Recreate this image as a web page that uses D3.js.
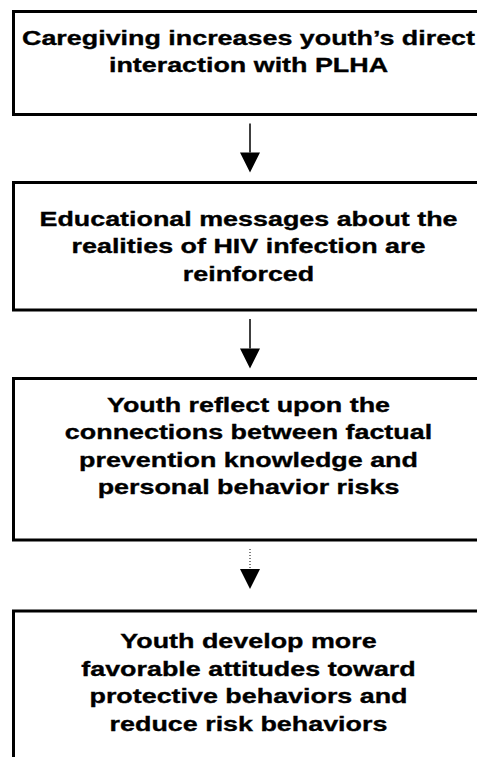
<!DOCTYPE html>
<html>
<head>
<meta charset="utf-8">
<script src="https://cdn.jsdelivr.net/npm/d3@7"></script>
<style>
  body { margin: 0; background: #fff; }
  svg { display: block; }
</style>
</head>
<body>
<div id="chart"></div>
<script>
// flowchart steps, one array of wrapped lines per box
const step1 = ["Caregiving increases youth\u2019s direct", "interaction with PLHA"];
const step2 = ["Educational messages about the", "realities of HIV infection are", "reinforced"];
const step3 = ["Youth reflect upon the", "connections between factual", "prevention knowledge and", "personal behavior risks"];
const step4 = ["Youth develop more", "favorable attitudes toward", "protective behaviors and", "reduce risk behaviors"];
const steps = [step1, step2, step3, step4];
// link style between consecutive boxes
const links = ["solid", "solid", "dotted"];

const width = 477, height = 757;
// box top / bottom edges and text offsets (layout)
const boxTop = [11.5, 182.5, 378.5, 611];
const boxBottom = [114.5, 310, 540, 800];
const textTop = [33, 43, 33, 37];
const boxLeft = 13.5, boxRight = 495;
const lineH = 27.5;
const textX = 248.5, stretch = 1.28;
const arrowX = 250;

const svg = d3.select("#chart").append("svg")
  .attr("width", width).attr("height", height);

const y = d3.scaleLinear().domain([0, height]).range([0, height]);

const box = svg.selectAll("g.box")
  .data(steps)
  .join("g")
  .attr("class", "box");

box.append("rect")
  .attr("x", boxLeft)
  .attr("y", (d, i) => y(boxTop[i]))
  .attr("width", boxRight - boxLeft)
  .attr("height", (d, i) => y(boxBottom[i]) - y(boxTop[i]))
  .attr("fill", "none")
  .attr("stroke", "#000")
  .attr("stroke-width", 3);

box.each(function(lines, i) {
  d3.select(this).selectAll("text")
    .data(lines)
    .join("text")
    .attr("transform", (d, j) => `translate(${textX},${y(boxTop[i] + textTop[i] + j * lineH)}) scale(${stretch},1)`)
    .attr("text-anchor", "middle")
    .attr("font-family", "'Liberation Sans', Arial, sans-serif")
    .attr("font-weight", "bold")
    .attr("font-size", 21)
    .attr("fill", "#000")
    .attr("stroke", "#000")
    .attr("stroke-width", 0.35)
    .text(d => d);
});

const arrow = svg.selectAll("g.arrow")
  .data(links)
  .join("g")
  .attr("class", "arrow");

arrow.each(function(style, i) {
  const g = d3.select(this);
  const y0 = boxBottom[i] + 9;
  const headEnd = style === "dotted" ? 589 : boxTop[i + 1] - 10;
  const headStart = headEnd - 20;
  g.append("line")
    .attr("x1", arrowX).attr("x2", arrowX)
    .attr("y1", y(y0)).attr("y2", y(headStart))
    .attr("stroke", "#000")
    .attr("stroke-width", style === "dotted" ? 1 : 1.5)
    .attr("stroke-dasharray", style === "dotted" ? "1,2" : null);
  g.append("path")
    .attr("d", d3.line()([[arrowX - 10, y(headStart)], [arrowX + 10, y(headStart)], [arrowX, y(headEnd)]]) + "Z")
    .attr("fill", "#000");
});
</script>
</body>
</html>
